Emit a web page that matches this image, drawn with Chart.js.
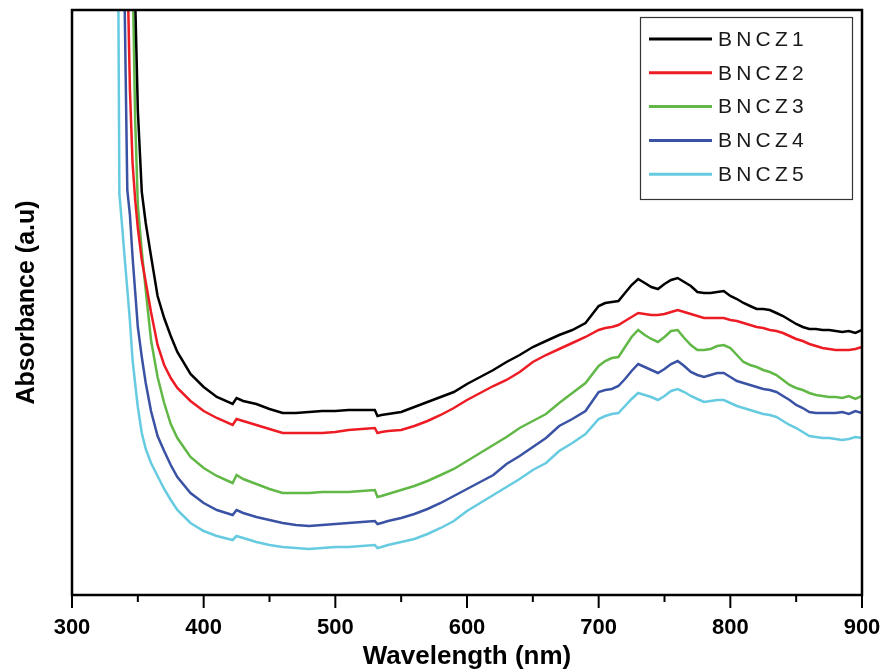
<!DOCTYPE html>
<html><head><meta charset="utf-8">
<script src="https://cdn.jsdelivr.net/npm/chart.js@4.4.1/dist/chart.umd.min.js"></script>
<style>html,body{margin:0;padding:0;background:#fff}#wrap{width:881px;height:672px}</style>
</head><body><div id="wrap"><canvas id="c" width="881" height="672"></canvas></div>
<script>
const wavelength = [334,336,338,340,342,344,346,348,350,353,356,360,365,370,375,380,390,400,410,422,425,
430,440,450,460,470,480,490,500,510,520,530,532,535,
540,550,560,570,580,590,600,610,620,630,640,650,660,670,680,690,700,
705,710,715,720,725,730,735,740,745,750,755,760,765,770,775,780,785,790,795,800,
805,810,815,820,825,830,835,840,845,850,855,860,865,870,875,880,885,890,895,900];

const bncz1 = [null,null,null,null,null,null,795,595,485,403,372,339,299,277,259,243,221,208,198,191,197,
194,191,186,182,182,183,184,184,185,185,185,179,180,
181,183,188,193,198,203,211,218,225,233,240,248,254,260,265,272,289,
292,293,294,302,310,316,312,308,306,311,315,317,313,309,303,302,302,303,304,299,
296,292,289,286,286,285,282,279,275,271,268,266,266,265,265,264,263,264,262,265];

const bncz2 = [null,null,null,895,635,505,432,395,367,335,313,283,250,230,217,207,194,184,177,170,176,
174,170,166,162,162,162,162,163,165,166,167,162,163,
164,165,169,174,180,187,195,202,209,215,223,233,240,246,252,258,265,
267,268,270,274,278,282,281,280,280,281,283,285,283,281,279,277,277,277,277,275,
274,272,270,268,267,265,264,262,259,256,254,251,249,247,246,245,245,245,246,248];

const bncz3 = [null,null,null,null,null,895,625,475,390,344,305,255,218,192,171,157,138,127,119,112,120,
116,111,106,102,102,102,103,103,103,104,105,98,99,
101,105,109,114,120,126,134,142,150,158,167,174,181,192,202,212,229,
234,237,238,248,258,265,260,256,253,258,264,265,257,250,245,245,246,249,250,247,
240,233,230,228,225,223,220,215,210,207,205,202,200,199,198,198,197,199,196,199];

const bncz4 = [null,null,795,590,405,380,338,303,268,238,212,184,159,144,130,118,102,92,85,80,85,
82,78,75,72,70,69,70,71,72,73,74,71,72,
74,77,81,86,92,99,106,113,120,131,139,148,157,169,176,184,203,
205,206,209,216,224,231,228,225,222,226,231,234,229,223,220,218,220,222,222,218,
214,212,210,208,206,205,203,199,195,190,187,183,182,182,182,182,183,181,184,182];

const bncz5 = [895,401,370,337,306,274,235,211,188,162,146,132,119,106,95,85,72,64,59,55,59,
57,53,50,48,47,46,47,48,48,49,50,47,48,
50,53,56,61,67,74,84,92,100,108,116,125,132,144,152,161,176,
179,181,182,189,196,202,200,198,195,199,204,206,203,199,196,193,194,195,195,192,
189,187,185,183,181,180,178,174,170,167,163,159,158,157,157,156,155,156,158,157];

const seriesNames = ['BNCZ1','BNCZ2','BNCZ3','BNCZ4','BNCZ5'];
const seriesColors = ['#000000','#ed1c24','#62b847','#3a52a3','#66cbe0'];
const seriesValues = [bncz1,bncz2,bncz3,bncz4,bncz5];
const xTickStep = 50;

const datasets = seriesValues.map((vals,i)=>({
  label: seriesNames[i],
  data: wavelength.map((w,j)=>({x:w,y:vals[j]})),
  borderColor: seriesColors[i],
  backgroundColor: seriesColors[i],
  borderWidth: 2.5,
  pointRadius: 0,
  tension: 0,
  fill: false
}));

const framePlugin = {
  id:'frame',
  afterDraw(chart){
    const {ctx, chartArea:a, scales:{x}} = chart;
    ctx.save();
    ctx.strokeStyle = '#000';
    ctx.lineWidth = 2.5;
    ctx.strokeRect(a.left, a.top, a.right-a.left, a.bottom-a.top);
    ctx.lineWidth = 2;
    x.ticks.forEach(t=>{
      const px = x.getPixelForValue(t.value);
      const major = t.value % 100 === 0;
      ctx.beginPath();
      ctx.moveTo(px, a.bottom);
      ctx.lineTo(px, a.bottom + (major ? 13 : 7));
      ctx.stroke();
    });
    // legend
    const lx = 640, ly = 17, lw = 212, lh = 182;
    ctx.lineWidth = 1.2;
    ctx.strokeStyle = '#333';
    ctx.strokeRect(lx+0.5, ly+0.5, lw, lh);
    ctx.font = '21px "Liberation Sans", Arial, sans-serif';
    ctx.textBaseline = 'middle';
    ctx.fillStyle = '#1a1a1a';
    try { ctx.letterSpacing = '4.2px'; } catch(e) {}
    chart.data.datasets.forEach((ds,i)=>{
      const y = 39 + i*33.8;
      ctx.strokeStyle = ds.borderColor;
      ctx.lineWidth = 3;
      ctx.beginPath(); ctx.moveTo(649,y); ctx.lineTo(712,y); ctx.stroke();
      ctx.fillText(ds.label, 718, y+1);
    });
    ctx.restore();
  }
};

new Chart(document.getElementById('c'), {
  type:'line',
  data:{datasets},
  plugins:[framePlugin],
  options:{
    responsive:false,
    animation:false,
    devicePixelRatio:1,
    layout:{padding:{left:0,top:10,right:19,bottom:0}},
    plugins:{legend:{display:false},tooltip:{enabled:false}},
    scales:{
      x:{
        type:'linear', min:300, max:900,
        grid:{display:false, drawTicks:false},
        border:{display:false},
        ticks:{stepSize:xTickStep, padding:20, color:'#000',
          font:{family:'"Liberation Sans Narrow", "Liberation Sans", Arial, sans-serif', size:22, weight:'bold'},
          callback:(v)=> v % 100 === 0 ? String(v) : ''},
        title:{display:true, text:'Wavelength (nm)', color:'#000',
          font:{family:'"Liberation Sans", Arial, sans-serif', size:26, weight:'bold'}, padding:{top:-3,bottom:0}},
        afterFit:(s)=>{s.height = 77; s.paddingLeft = 0; s.paddingRight = 0;}
      },
      y:{
        min:0, max:585,
        grid:{display:false, drawTicks:false},
        border:{display:false},
        ticks:{display:false},
        title:{display:true, text:'Absorbance (a.u)', color:'#000',
          font:{family:'"Liberation Sans", Arial, sans-serif', size:25, weight:'bold'}, padding:{top:12,bottom:0}},
        afterFit:(s)=>{s.width = 72; s.paddingTop = 0; s.paddingBottom = 0;}
      }
    }
  }
});
</script>
</body></html>
